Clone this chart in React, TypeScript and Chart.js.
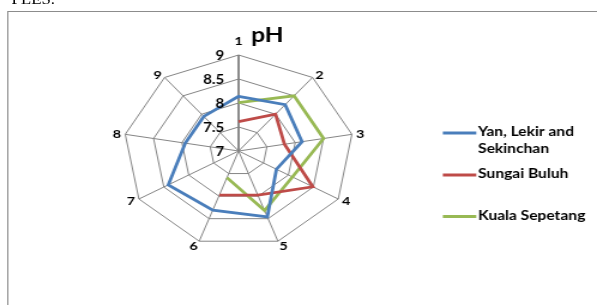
import React, { useEffect, useRef } from 'react';
import { Chart, registerables } from 'chart.js';

Chart.register(...registerables);

// ---- data ----
const CATEGORIES = ['1', '2', '3', '4', '5', '6', '7', '8', '9'];
const YAN_LEKIR_SEKINCHAN = [8.14, 8.26, 8.12, 7.76, 8.46, 8.31, 8.41, 7.94, 7.94];
const SUNGAI_BULUH = [7.61, 8.0, 7.81, 8.49, 7.98, 7.98, null, null, null];
const KUALA_SEPETANG = [8.01, 8.5, 8.5, 8.08, 8.32, 7.59, null, null, null];
const SERIES_NAMES = ['Yan, Lekir and Sekinchan', 'Sungai Buluh', 'Kuala Sepetang'];
const SERIES_COLORS = ['#4A7EBB', '#BE4B48', '#98B954'];
const TICK_VALUES = [7, 7.5, 8, 8.5, 9];
const TICK_LABELS = ['7', '7.5', '8', '8.5', '9'];
const TITLE = 'pH';
const PAGE_TEXT = 'PLES.';

const FONT = 'Lato, Carlito, "Open Sans", sans-serif';
const W = 498;
const H = 305;
const STRETCH = 597 / W;

const decorPlugin = {
  id: 'decor',
  beforeDraw(chart: any) {
    const ctx = chart.ctx;
    ctx.save();
    ctx.fillStyle = '#ffffff';
    ctx.fillRect(0, 0, chart.width, chart.height);
    ctx.strokeStyle = '#8c8c8c';
    ctx.lineWidth = 1;
    ctx.strokeRect(6.5, 11.5, chart.width + 40, chart.height + 40);
    ctx.restore();
  },
  afterDraw(chart: any) {
    const ctx = chart.ctx;
    const s = chart.scales.r;
    ctx.save();
    ctx.fillStyle = '#000000';

    // value axis labels
    ctx.font = `bold 12.5px ${FONT}`;
    ctx.textAlign = 'right';
    ctx.textBaseline = 'middle';
    TICK_VALUES.forEach((v, i) => {
      const d = s.getDistanceFromCenterForValue(v);
      ctx.fillText(TICK_LABELS[i], s.xCenter - 12, s.yCenter - d + 1);
    });

    // category labels
    ctx.font = `bold 12px ${FONT}`;
    chart.data.labels.forEach((lab: string, i: number) => {
      const a = s.getIndexAngle(i) - Math.PI / 2;
      const c = Math.cos(a);
      const sn = Math.sin(a);
      if (Math.abs(c) < 0.1 && sn < 0) {
        const p = s.getPointPosition(i, s.drawingArea + 10.5);
        ctx.textAlign = 'center';
        ctx.textBaseline = 'alphabetic';
        ctx.fillText(lab, p.x, p.y);
      } else {
        const p = s.getPointPosition(i, s.drawingArea + 3.5);
        ctx.textAlign = c > 0 ? 'left' : 'right';
        ctx.textBaseline = 'middle';
        ctx.fillText(lab, p.x, p.y + (sn > 0 ? 1.5 * sn : 0));
      }
    });

    // title
    ctx.font = `bold 20.5px ${FONT}`;
    ctx.textAlign = 'center';
    ctx.textBaseline = 'alphabetic';
    ctx.fillText(TITLE, s.xCenter + 24, 41.7);

    // legend
    const legendY = [132, 174, 215.5];
    const lineX0 = 369.4;
    const lineX1 = 397.3;
    const textX = 398.8;
    ctx.font = `bold 13px ${FONT}`;
    ctx.textAlign = 'left';
    ctx.textBaseline = 'middle';
    chart.data.datasets.forEach((ds: any, i: number) => {
      const y = legendY[i];
      ctx.strokeStyle = ds.borderColor;
      ctx.lineWidth = 3;
      ctx.beginPath();
      ctx.moveTo(lineX0, y + 1);
      ctx.lineTo(lineX1, y + 1);
      ctx.stroke();
      const words = String(ds.label).split(' ');
      const lines: string[] = [];
      let cur = '';
      words.forEach((w) => {
        const t = cur ? cur + ' ' + w : w;
        if (ctx.measureText(t).width > 92 && cur) {
          lines.push(cur);
          cur = w;
        } else cur = t;
      });
      if (cur) lines.push(cur);
      lines.forEach((ln, k) => ctx.fillText(ln, textX, y + k * 16.7));
    });
    ctx.restore();
  },
};

export default function App() {
  const ref = useRef<HTMLCanvasElement | null>(null);

  useEffect(() => {
    document.body.style.margin = '0';
    const canvas = ref.current;
    if (!canvas) return;
    const seriesData = [YAN_LEKIR_SEKINCHAN, SUNGAI_BULUH, KUALA_SEPETANG];
    const chart = new Chart(canvas, {
      type: 'radar',
      data: {
        labels: CATEGORIES,
        datasets: seriesData.map((d, i) => ({
          label: SERIES_NAMES[i],
          data: d,
          borderColor: SERIES_COLORS[i],
          backgroundColor: SERIES_COLORS[i],
          borderWidth: 2.8,
          pointRadius: 0,
          pointHoverRadius: 0,
          fill: false,
          spanGaps: false,
          tension: 0,
        })),
      },
      options: {
        animation: false,
        responsive: false,
        maintainAspectRatio: false,
        devicePixelRatio: 1,
        layout: { padding: { left: 103, right: W - 103 - 192, top: 55, bottom: H - 55 - 192 } },
        plugins: {
          legend: { display: false },
          title: { display: false },
          tooltip: { enabled: false },
        },
        scales: {
          r: {
            min: TICK_VALUES[0],
            max: TICK_VALUES[TICK_VALUES.length - 1],
            ticks: { display: false, stepSize: 0.5 },
            pointLabels: { display: false },
            grid: { color: '#868686', lineWidth: 1 },
            angleLines: {
              display: true,
              color: (c: any) => (c.index === 0 ? '#7f7f7f' : '#868686'),
              lineWidth: (c: any) => (c.index === 0 ? 1.8 : 1),
            },
          },
        },
      },
      plugins: [decorPlugin],
    });
    return () => chart.destroy();
  }, []);

  return (
    <div
      style={{
        position: 'relative',
        width: W + 'px',
        height: H + 'px',
        overflow: 'hidden',
        transform: `scaleX(${STRETCH})`,
        transformOrigin: '0 0',
      }}
    >
      <canvas
        ref={ref}
        width={W}
        height={H}
        style={{ display: 'block', width: W + 'px', height: H + 'px' }}
      />
      <div
        style={{
          position: 'absolute',
          left: '9.7px',
          top: '-6.7px',
          fontFamily: '"Liberation Serif", "Times New Roman", serif',
          fontSize: '14px',
          lineHeight: '1',
          color: '#000',
          whiteSpace: 'nowrap',
        }}
      >
        {PAGE_TEXT}
      </div>
    </div>
  );
}
